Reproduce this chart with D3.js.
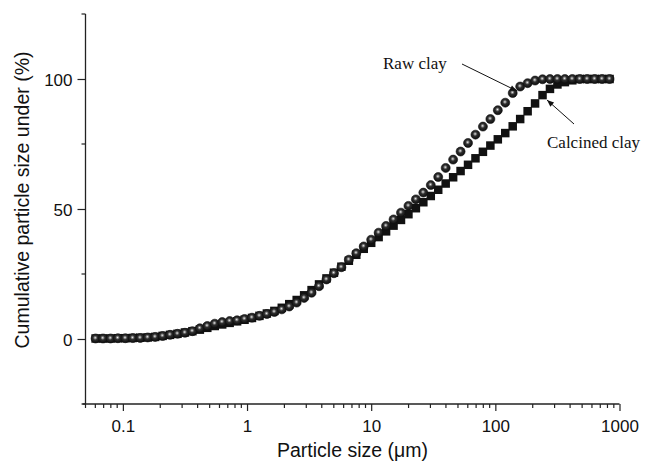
<!DOCTYPE html>
<html>
<head>
<meta charset="utf-8">
<script src="https://cdn.jsdelivr.net/npm/d3@7"></script>
<style>
  body { margin: 0; background: #fff; }
  svg { display: block; }
</style>
</head>
<body>
<div id="graph"></div>
<script>
// particle size classes (um)
var sizes = [0.0603, 0.0692, 0.0796, 0.0912, 0.1047, 0.1202, 0.1380, 0.1585, 0.1820, 0.2089,
  0.2399, 0.2754, 0.3162, 0.3631, 0.4169, 0.4786, 0.5495, 0.6310, 0.7244, 0.8318,
  0.9550, 1.096, 1.259, 1.445, 1.660, 1.905, 2.188, 2.512, 2.884, 3.311,
  3.802, 4.365, 5.012, 5.754, 6.607, 7.586, 8.710, 10.00, 11.48, 13.18,
  15.14, 17.38, 19.95, 22.91, 26.30, 30.20, 34.67, 39.81, 45.71, 52.48,
  60.26, 69.18, 79.43, 91.20, 104.7, 120.2, 138.0, 158.5, 182.0, 208.9,
  239.9, 275.4, 316.2, 363.1, 416.9, 478.6, 549.5, 631.0, 724.4, 831.8];

// cumulative % under, raw clay (circles)
var rawClay = [0.2, 0.2, 0.2, 0.3, 0.3, 0.35, 0.4, 0.6, 0.8, 1.15,
  1.6, 2.0, 2.4, 3.0, 4.1, 5.0, 5.9, 6.5, 6.9, 7.2,
  7.7, 8.2, 8.9, 9.6, 10.4, 11.4, 12.5, 14.0, 15.8, 17.8,
  20.3, 22.9, 25.3, 27.6, 30.5, 33.0, 35.6, 38.2, 40.9, 43.5,
  46.0, 48.6, 51.2, 53.7, 56.3, 59.2, 62.3, 65.8, 69.0, 72.1,
  75.4, 78.6, 81.7, 84.6, 88.0, 90.9, 94.6, 97.1, 98.4, 99.4,
  99.9, 100, 100, 100, 100, 100, 100, 100, 100, 100];

// cumulative % under, calcined clay (squares)
var calcinedClay = [0.2, 0.2, 0.2, 0.3, 0.3, 0.4, 0.5, 0.6, 0.8, 1.2,
  1.6, 2.0, 2.5, 3.0, 3.6, 4.3, 5.0, 5.6, 6.2, 6.8,
  7.4, 8.1, 8.9, 9.8, 10.8, 12.0, 13.4, 15.0, 16.8, 18.8,
  21.0, 23.3, 25.5, 27.8, 30.1, 32.4, 34.7, 37.0, 39.2, 41.4,
  43.6, 45.8, 48.0, 50.3, 52.6, 55.0, 57.4, 59.8, 62.2, 64.6,
  67.0, 69.5, 72.0, 74.4, 76.8, 79.2, 81.8, 84.6, 87.6, 90.6,
  93.8, 96.2, 97.9, 98.8, 99.5, 100, 100, 100, 100, 100];

var xTicks = [0.1, 1, 10, 100, 1000];
var xTickLabels = ["0.1", "1", "10", "100", "1000"];
var yTicks = [0, 50, 100];
var yMinorTicks = [-25, 25, 75, 125];

function createGraph() {
  var w = 648, h = 461;
  var plotLeft = 85.5, plotRight = 619.5, plotTop = 14, plotBottom = 404;

  var svg = d3.select("div#graph").append("svg")
    .attr("width", w)
    .attr("height", h);

  var x = d3.scaleLog().domain([0.05, 1000]).range([plotLeft, plotRight]);
  var y = d3.scaleLinear().domain([-25, 125]).range([plotBottom, plotTop]);

  // shiny ball gradient for the raw clay markers
  var defs = svg.append("defs");
  var grad = defs.append("radialGradient").attr("id", "ball")
    .attr("cx", "46%").attr("cy", "42%").attr("r", "58%");
  grad.append("stop").attr("offset", "0%").attr("stop-color", "#f4f4f4");
  grad.append("stop").attr("offset", "16%").attr("stop-color", "#9a9a9a");
  grad.append("stop").attr("offset", "42%").attr("stop-color", "#2e2e2e");
  grad.append("stop").attr("offset", "100%").attr("stop-color", "#0c0c0c");

  var axisColor = "#222";
  var tickFont = "'Liberation Sans', Arial, Helvetica, sans-serif";

  // x minor ticks (2..9 per decade)
  var xMinor = [];
  [0.01, 0.1, 1, 10, 100].forEach(function(dec) {
    d3.range(1, 10).forEach(function(k) {
      var v = dec * k;
      if (v >= 0.05 && v <= 1000 && xTicks.indexOf(v) < 0) xMinor.push(v);
    });
  });

  var gx = svg.append("g").attr("transform", "translate(0," + plotBottom + ")");
  gx.call(d3.axisBottom(x).tickValues(xTicks).tickSize(7).tickPadding(9)
      .tickFormat(function(d, i) { return xTickLabels[i]; }));
  gx.selectAll("line.minor").data(xMinor).enter().append("line")
    .attr("class", "minor")
    .attr("x1", function(d) { return x(d); }).attr("x2", function(d) { return x(d); })
    .attr("y1", 0).attr("y2", 4)
    .attr("stroke", axisColor).attr("stroke-width", 1.2);
  gx.select(".domain").attr("d", "M" + (plotLeft - 3) + ",0H" + plotRight)
    .attr("stroke", axisColor).attr("stroke-width", 1.3);
  gx.selectAll(".tick line").attr("stroke", axisColor).attr("stroke-width", 1.2);
  gx.selectAll(".tick text").attr("fill", "#111")
    .style("font-family", tickFont).style("font-size", "17px");

  var gy = svg.append("g").attr("transform", "translate(" + plotLeft + ",0)");
  gy.call(d3.axisLeft(y).tickValues(yTicks).tickSize(8).tickPadding(5));
  gy.selectAll("line.minor").data(yMinorTicks).enter().append("line")
    .attr("class", "minor")
    .attr("x1", -4).attr("x2", 0)
    .attr("y1", function(d) { return y(d); }).attr("y2", function(d) { return y(d); })
    .attr("stroke", axisColor).attr("stroke-width", 1.2);
  gy.select(".domain").attr("d", "M0," + plotTop + "V" + plotBottom)
    .attr("stroke", axisColor).attr("stroke-width", 1.3);
  gy.selectAll(".tick line").attr("stroke", axisColor).attr("stroke-width", 1.2);
  gy.selectAll(".tick text").attr("fill", "#111").attr("dy", "0.38em")
    .style("font-family", tickFont).style("font-size", "17px");

  // axis titles
  svg.append("text")
    .attr("x", (plotLeft + plotRight) / 2).attr("y", 457)
    .attr("text-anchor", "middle")
    .attr("fill", "#111")
    .style("font-family", tickFont).style("font-size", "19.5px")
    .text("Particle size (\u03bcm)");

  svg.append("text")
    .attr("transform", "translate(29,200) rotate(-90)")
    .attr("text-anchor", "middle")
    .attr("fill", "#111")
    .style("font-family", tickFont).style("font-size", "19.5px")
    .text("Cumulative particle size under (%)");

  // data points: squares under circles
  var calcined = sizes.map(function(s, i) { return {size: s, value: calcinedClay[i]}; });
  var raw = sizes.map(function(s, i) { return {size: s, value: rawClay[i]}; });

  var sq = 8.5;
  svg.selectAll("rect.calcined")
    .data(calcined).enter().append("rect")
    .attr("class", "calcined")
    .attr("x", function(d) { return x(d.size) - sq / 2; })
    .attr("y", function(d) { return y(d.value) - sq / 2; })
    .attr("width", sq).attr("height", sq)
    .attr("fill", "#111");

  svg.selectAll("circle.raw")
    .data(raw).enter().append("circle")
    .attr("class", "raw")
    .attr("cx", function(d) { return x(d.size); })
    .attr("cy", function(d) { return y(d.value); })
    .attr("r", 4.5)
    .attr("fill", "url(#ball)")
    .attr("stroke", "#111").attr("stroke-width", 0.6);

  // annotations
  defs.append("marker").attr("id", "arrow")
    .attr("viewBox", "0 0 10 10").attr("refX", 10).attr("refY", 5)
    .attr("markerWidth", 9).attr("markerHeight", 7).attr("markerUnits", "userSpaceOnUse")
    .attr("orient", "auto")
    .append("path").attr("d", "M0,1L10,5L0,9Z").attr("fill", "#111");

  var serif = "'Liberation Serif', 'Times New Roman', Times, serif";

  svg.append("text")
    .attr("x", 383).attr("y", 69)
    .attr("fill", "#111")
    .style("font-family", serif).style("font-size", "17px")
    .text("Raw clay");
  svg.append("line")
    .attr("x1", 462).attr("y1", 64).attr("x2", 517).attr("y2", 91)
    .attr("stroke", "#111").attr("stroke-width", 1)
    .attr("marker-end", "url(#arrow)");

  svg.append("text")
    .attr("x", 547).attr("y", 148)
    .attr("fill", "#111")
    .style("font-family", serif).style("font-size", "17px")
    .text("Calcined clay");
  svg.append("line")
    .attr("x1", 574).attr("y1", 124).attr("x2", 547).attr("y2", 100)
    .attr("stroke", "#111").attr("stroke-width", 1)
    .attr("marker-end", "url(#arrow)");
}
createGraph();
</script>
</body>
</html>
